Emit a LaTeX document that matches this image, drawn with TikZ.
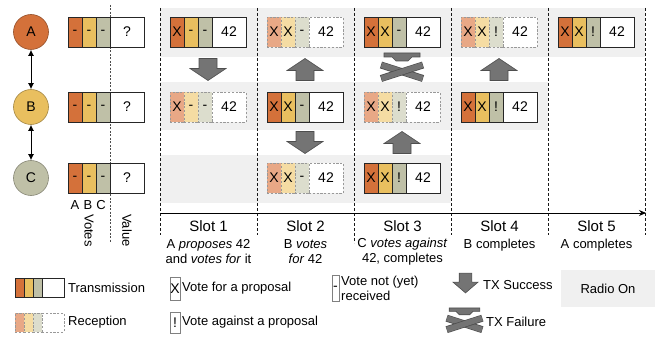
\documentclass[tikz,border=0pt]{standalone}
\usepackage{fontspec}
\setmainfont{Liberation Sans}
\usetikzlibrary{calc,arrows.meta}
\definecolor{txA}{HTML}{D4713A}
\definecolor{txB}{HTML}{E9BF5F}
\definecolor{txC}{HTML}{BFC0A7}
\definecolor{rxA}{HTML}{E8A886}
\definecolor{rxB}{HTML}{F5DCA3}
\definecolor{rxC}{HTML}{DCDDCD}
\definecolor{band}{HTML}{F0F0F0}
\definecolor{arr}{HTML}{747474}
\definecolor{arrd}{HTML}{4E4E4E}
\tikzset{
  cell/.style={minimum width=14pt, minimum height=30pt, inner sep=0pt, outer sep=0pt,
    font=\fontsize{14}{14}\selectfont, anchor=west},
  lcell/.style={minimum width=9pt, minimum height=19pt, inner sep=0pt, outer sep=0pt, anchor=west},
  tx/.style={draw=black!85, line width=0.8pt},
  rx/.style={draw=black!40, dash pattern=on 2.2pt off 1.6pt, line width=0.7pt},
  blk/.style={fill=arr, draw=arrd, line width=0.6pt, line join=miter},
  slotline/.style={draw=black!90, dash pattern=on 3pt off 2pt, line width=0.8pt},
  lbl/.style={font=\fontsize{13}{15}\selectfont, inner sep=0pt},
  slbl/.style={font=\fontsize{15}{15}\selectfont, inner sep=0pt},
  nodec/.style={circle, minimum size=35pt, inner sep=0pt, font=\fontsize{14}{14}\selectfont, line width=0.6pt},
  legsym/.style={draw=black!50, line width=0.6pt, inner sep=0pt, font=\fontsize{14}{14}\selectfont},
  dbl/.style={line width=1pt, {Latex[length=6pt,width=6pt]}-{Latex[length=6pt,width=6pt]}},
}
\newcommand\votebox[8]{%
  \coordinate (#1) at (#2,#3);
  \node[cell,#8,fill=#8A] (#1a) at ({#2-38},#3) {#4};
  \node[cell,#8,fill=#8B] (#1b) at ({#2-24},#3) {#5};
  \node[cell,#8,fill=#8C] (#1c) at ({#2-10},#3) {#6};
  \node[cell,#8,fill=white,minimum width=34pt] (#1v) at ({#2+4},#3) {#7};
}
\newcommand\legbox[4]{%
  \node[lcell,#4,fill=#4A] (#1a) at (#2,#3) {};
  \node[lcell,#4,fill=#4B] (#1b) at ({#2+9},#3) {};
  \node[lcell,#4,fill=#4C] (#1c) at ({#2+18},#3) {};
  \node[lcell,#4,fill=white,minimum width=22pt] (#1v) at ({#2+27},#3) {};
}
\newcommand\blkdown[2][]{\draw[blk,shift={(#2)},#1] (-9,-11) -- (9,-11) -- (9,-1) -- (18,-1) -- (0,11) -- (-18,-1) -- (-9,-1) -- cycle;}
\newcommand\blkup[2][]{\draw[blk,shift={(#2)},#1] (-9,11) -- (9,11) -- (9,1) -- (18,1) -- (0,-11) -- (-18,1) -- (-9,1) -- cycle;}
\newcommand\blkfail[2][]{%
  \begin{scope}[shift={(#2)},#1]
    \draw[blk] (-18,-16.5) -- (18,-16.5) -- (18,-12.5) -- (10,-12.5) -- (6,-8.5) -- (-6,-8.5) -- (-10,-12.5) -- (-18,-12.5) -- cycle;
    \draw[arrd, line width=7pt] (-21,-4.5) -- (21,9);
    \draw[arr, line width=5.6pt] (-20.5,-4.5) -- (20.5,9);
    \draw[arrd, line width=7pt] (-21,9) -- (21,-4.5);
    \draw[arr, line width=5.6pt] (-20.5,9) -- (20.5,-4.5);
  \end{scope}}
\begin{document}
\begin{tikzpicture}[x=1pt,y=-1pt]
\useasboundingbox (0,0) rectangle (655,339);
% radio-on bands
\fill[band] (160,8) rectangle (645,57);
\fill[band] (160,82) rectangle (548,130);
\fill[band] (160,155) rectangle (451,203);
% slot dividers
\foreach \x in {160,257,451,548,645} \draw[slotline] (\x,8) -- (\x,235);
\draw[slotline] (354,8) -- (354,243);
\draw[draw=black!70, dash pattern=on 2pt off 1.5pt, line width=0.6pt] (110,5) -- (110,242);
% timeline
\coordinate (t0) at (160,213);
\coordinate (t1) at (646,213);
\draw[line width=0.9pt, -{Stealth[length=7pt,width=6pt]}] (t0) -- (t1);
% nodes
\node[nodec, fill=txA, draw=txA!70!black] (A) at (31,32) {A};
\node[nodec, fill=txB, draw=txB!70!black] (B) at (31,107) {B};
\node[nodec, fill=txC, draw=txC!70!black] (C) at (31,178) {C};
\draw[dbl] (A) -- (B);
\draw[dbl] (B) -- (C);
% initial state
\votebox{LA}{106}{32}{-}{-}{-}{?}{tx}
\votebox{LB}{106}{107}{-}{-}{-}{?}{tx}
\votebox{LC}{106}{178}{-}{-}{-}{?}{tx}
\node[lbl] (labA) at (75,205) {A};
\node[lbl] (labB) at (88,205) {B};
\node[lbl] (labC) at (101,205) {C};
\node[lbl, rotate=-90, anchor=west] (votes) at (89,214) {Votes};
\node[lbl, rotate=-90, anchor=west] (value) at (127,214) {Value};
% slot 1
\votebox{s1A}{208}{32}{X}{-}{-}{42}{tx}
\votebox{s1B}{208}{107}{X}{-}{-}{42}{rx}
\blkdown{$(s1A)!.5!(s1B)$}
% slot 2
\votebox{s2A}{305}{32}{X}{X}{-}{42}{rx}
\votebox{s2B}{305}{107}{X}{X}{-}{42}{tx}
\votebox{s2C}{305}{178}{X}{X}{-}{42}{rx}
\blkup{$(s2A)!.5!(s2B)$}
\blkdown{$(s2B)!.5!(s2C)$}
% slot 3
\votebox{s3A}{402}{32}{X}{X}{-}{42}{tx}
\votebox{s3B}{402}{107}{X}{X}{!}{42}{rx}
\votebox{s3C}{402}{178}{X}{X}{!}{42}{tx}
\blkfail{$(s3A)!.5!(s3B)$}
\blkup{$(s3B)!.5!(s3C)$}
% slot 4
\votebox{s4A}{499}{32}{X}{X}{!}{42}{rx}
\votebox{s4B}{499}{107}{X}{X}{!}{42}{tx}
\blkup{$(s4A)!.5!(s4B)$}
% slot 5
\votebox{s5A}{596}{32}{X}{X}{!}{42}{tx}
% slot labels
\foreach \i/\x in {1/208.5,2/305.5,3/402.5,4/499.5,5/596.5}
  \node[slbl] (slot\i) at (\x,226) {Slot \i};
\node[lbl, align=center] (d1) at (208.5,252) {A \textit{proposes} 42\\and \textit{votes for} it};
\node[lbl, align=center] (d2) at (305.5,252) {B \textit{votes}\\\textit{for} 42};
\node[lbl, align=center] (d3) at (402.5,252) {C \textit{votes against}\\42, completes};
\node[lbl] (d4) at (499.5,245) {B completes};
\node[lbl] (d5) at (596.5,245) {A completes};
% legend
\legbox{LgT}{15}{287.5}{tx}
\legbox{LgR}{15}{322.5}{rx}
\node[lbl, anchor=west] (tTx) at (68,287.5) {Transmission};
\node[lbl, anchor=west] (tRx) at (68,322.5) {Reception};
\node[legsym, minimum width=10pt, minimum height=23pt] (kX) at (175,288.5) {X};
\node[lbl, anchor=west] (tX) at (182,288.5) {Vote for a proposal};
\node[legsym, minimum width=10pt, minimum height=21pt] (kE) at (175,322.5) {!};
\node[lbl, anchor=west] (tE) at (182,322.5) {Vote against a proposal};
\node[legsym, minimum width=7pt, minimum height=26pt] (kD) at (335.5,288) {-};
\node[lbl, anchor=west, align=left] (tD) at (341,288) {Vote not (yet)\\received};
\blkdown[xscale=0.7,yscale=0.9]{465.5,283}
\node[lbl, anchor=west] (tS) at (483,285) {TX Success};
\blkfail[scale=0.85]{464.5,322}
\node[lbl, anchor=west] (tF) at (486,322) {TX Failure};
\node[fill=band, minimum width=94pt, minimum height=37pt, inner sep=0pt, font=\fontsize{13}{15}\selectfont] (radio) at (608,288.5) {Radio On};
\end{tikzpicture}
\end{document}
